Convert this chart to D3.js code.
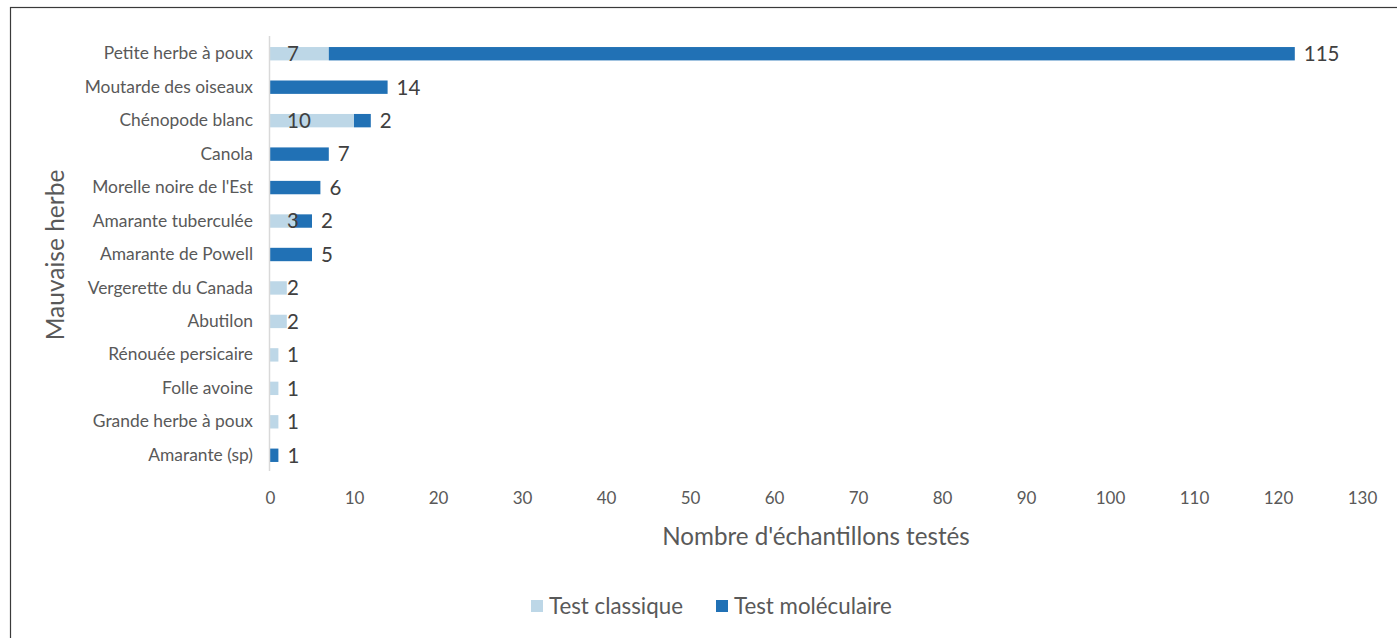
<!DOCTYPE html>
<html>
<head>
<meta charset="utf-8">
<script src="https://cdn.jsdelivr.net/npm/d3@7"></script>
<style>
  html, body { margin: 0; padding: 0; background: #fff; }
  svg { display: block; font-family: Lato, "Open Sans", sans-serif; }
</style>
</head>
<body>
<svg id="chart" width="1397" height="638"></svg>
<script>
// Weeds tested, by detection method
const categories = [
  "Petite herbe à poux", "Moutarde des oiseaux", "Chénopode blanc", "Canola",
  "Morelle noire de l'Est", "Amarante tuberculée", "Amarante de Powell",
  "Vergerette du Canada", "Abutilon", "Rénouée persicaire", "Folle avoine",
  "Grande herbe à poux", "Amarante (sp)"
];
const classique   = [7, 0, 10, 0, 0, 3, 0, 2, 2, 1, 1, 1, 0];
const moleculaire = [115, 14, 2, 7, 6, 2, 5, 0, 0, 0, 0, 0, 1];
const xTicks = [0, 10, 20, 30, 40, 50, 60, 70, 80, 90, 100, 110, 120, 130];
const seriesNames = ["Test classique", "Test moléculaire"];
const colors = ["#bdd7e7", "#2171b5"];

const svg = d3.select("#chart");

// frame
svg.append("rect")
  .attr("x", 10.5).attr("y", 7.5).attr("width", 1500).attr("height", 800)
  .attr("fill", "none").attr("stroke", "#3a3a3a").attr("stroke-width", 1.2);

const x = d3.scaleLinear().domain([0, 130]).range([270, 1362]);
const y = d3.scaleBand().domain(categories).range([37, 472]).paddingInner(0.6).paddingOuter(0.3);

const rows = categories.map((c, i) => ({ c, a: classique[i], b: moleculaire[i] }));

// bars: classique then moléculaire stacked on top
const g = svg.append("g");
g.selectAll("rect.cl").data(rows.filter(d => d.a > 0)).join("rect")
  .attr("class", "cl")
  .attr("x", x(0)).attr("y", d => y(d.c))
  .attr("width", d => x(d.a) - x(0)).attr("height", y.bandwidth())
  .attr("fill", colors[0]);
g.selectAll("rect.mo").data(rows.filter(d => d.b > 0)).join("rect")
  .attr("class", "mo")
  .attr("x", d => x(d.a)).attr("y", d => y(d.c))
  .attr("width", d => x(d.a + d.b) - x(d.a)).attr("height", y.bandwidth())
  .attr("fill", colors[1]);

// vertical axis line
svg.append("line")
  .attr("x1", x(0) - 0.5).attr("x2", x(0) - 0.5).attr("y1", 36).attr("y2", 471)
  .attr("stroke", "#d9d9d9").attr("stroke-width", 1.5);

// category labels
const yAxis = svg.append("g").attr("transform", `translate(${x(0) - 17},0)`)
  .call(d3.axisLeft(y).tickSize(0).tickPadding(0));
yAxis.select(".domain").remove();
yAxis.selectAll("text").attr("fill", "#595959").attr("font-size", "17.4px")
  .attr("font-family", "Lato, sans-serif");

// x tick labels
const xAxis = svg.append("g").attr("transform", "translate(0,492)")
  .call(d3.axisBottom(x).tickValues(xTicks).tickSize(0).tickPadding(0));
xAxis.select(".domain").remove();
xAxis.selectAll("text").attr("fill", "#595959").attr("font-size", "17px")
  .attr("font-family", "Lato, sans-serif");

// value labels
const lab = svg.append("g").attr("fill", "#404040").attr("font-size", "20.5px");
lab.selectAll("text.cl").data(rows.filter(d => d.a > 0)).join("text")
  .attr("x", x(0) + 17).attr("y", d => y(d.c) + y.bandwidth() / 2)
  .attr("dy", "0.36em").text(d => d.a);
lab.selectAll("text.mo").data(rows.filter(d => d.b > 0)).join("text")
  .attr("x", d => x(d.a + d.b) + 9).attr("y", d => y(d.c) + y.bandwidth() / 2)
  .attr("dy", "0.36em").text(d => d.b);

// axis titles
svg.append("text").attr("x", 816).attr("y", 536).attr("dy", "0.36em")
  .attr("text-anchor", "middle").attr("fill", "#595959").attr("font-size", "24.2px")
  .text("Nombre d'échantillons testés");
svg.append("text").attr("transform", "translate(55,255) rotate(-90)").attr("dy", "0.36em")
  .attr("text-anchor", "middle").attr("fill", "#595959").attr("font-size", "24.5px")
  .text("Mauvaise herbe");

// legend
const legend = svg.append("g");
const legX = [531, 716];
seriesNames.forEach((n, i) => {
  legend.append("rect").attr("x", legX[i]).attr("y", 600).attr("width", 12).attr("height", 12)
    .attr("fill", colors[i]);
  legend.append("text").attr("x", legX[i] + 18).attr("y", 606).attr("dy", "0.36em")
    .attr("fill", "#595959").attr("font-size", "22.3px").text(n);
});
</script>
</body>
</html>
